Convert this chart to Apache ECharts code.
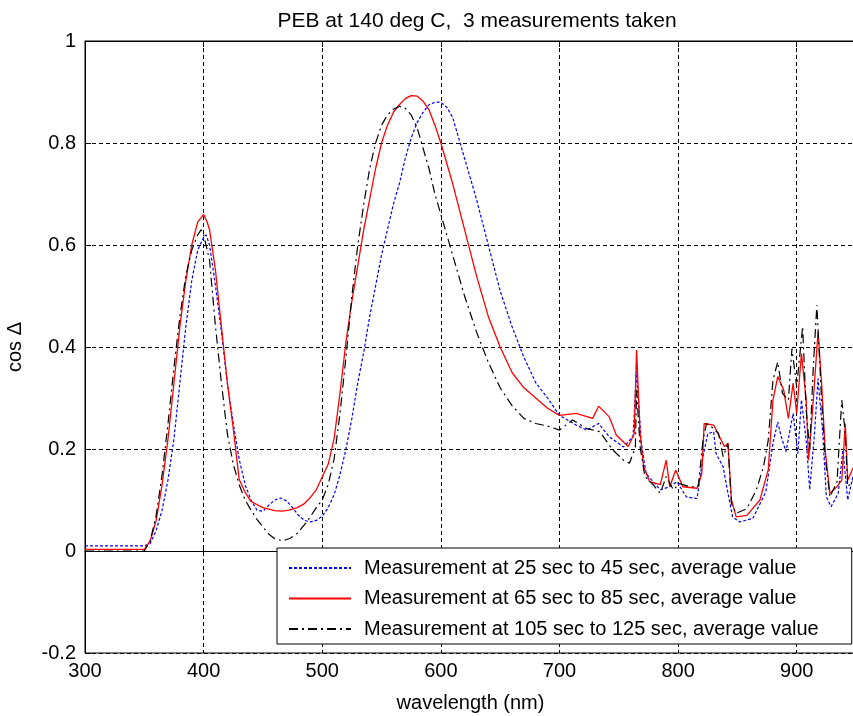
<!DOCTYPE html>
<html>
<head>
<meta charset="utf-8">
<script src="https://cdn.jsdelivr.net/npm/echarts@6/dist/echarts.min.js"></script>
<style>html,body{margin:0;padding:0;background:#fff;}#chart{width:853px;height:716px;}</style>
</head>
<body>
<div id="chart"></div>
<script>
// ---- Data ----
const titleText = 'PEB at 140 deg C,  3 measurements taken';
const seriesNames = [
  'Measurement at 25 sec to 45 sec, average value',
  'Measurement at 65 sec to 85 sec, average value',
  'Measurement at 105 sec to 125 sec, average value'
];
const xTicks = [300, 400, 500, 600, 700, 800, 900];
const yTicks = [-0.2, 0, 0.2, 0.4, 0.6, 0.8, 1];

const blueX = [300,350,355,360,365,370,375,380,385,390,395,400,402,405,410,415,420,425,430,435,440,445,450,455,460,465,470,475,480,485,490,495,500,505,510,515,520,525,530,535,540,545,550,555,560,565,570,575,580,585,590,595,600,605,610,615,620,630,640,650,660,670,680,690,700,
  714,723,733,742,754,762,765,769,773,785,793,799,807,816,821,825,830,832,838,841,846,852,863,874,880,884,887,891,897,901,904,908,911,915,918,922,925,929,935,939,943,948,950];
const blueY = [0.01,0.01,0.015,0.04,0.08,0.14,0.22,0.33,0.44,0.53,0.59,0.615,0.62,0.6,0.52,0.43,0.33,0.25,0.18,0.13,0.1,0.08,0.078,0.09,0.1,0.104,0.098,0.085,0.07,0.06,0.057,0.06,0.068,0.085,0.11,0.15,0.2,0.26,0.33,0.39,0.46,0.52,0.58,0.63,0.68,0.72,0.77,0.81,0.84,0.86,0.875,0.88,0.88,0.87,0.85,0.81,0.77,0.69,0.6,0.51,0.44,0.38,0.33,0.3,0.266,
  0.247,0.237,0.25,0.224,0.204,0.224,0.352,0.211,0.152,0.12,0.126,0.136,0.106,0.103,0.185,0.23,0.234,0.191,0.165,0.126,0.067,0.057,0.064,0.116,0.211,0.253,0.224,0.195,0.27,0.191,0.296,0.217,0.12,0.23,0.338,0.23,0.106,0.087,0.113,0.198,0.1,0.152,0.14];

const redX = [300,350,355,360,365,370,375,380,385,390,395,400,403,405,410,415,420,425,430,435,440,450,460,466,472,479,485,490,495,500,505,510,515,520,525,530,535,540,545,550,555,560,565,570,575,580,585,590,595,600,610,620,630,640,650,660,670,680,690,700,
  714,728,733,742,748,758,763,765,768,771,776,785,790,793,798,804,816,820,822,830,835,839,842,845,849,858,869,876,880,884,889,893,897,900,904,908,910,914,918,921,924,928,934,938,941,943,948,950];
const redY = [0.003,0.003,0.02,0.06,0.13,0.22,0.33,0.44,0.53,0.6,0.645,0.66,0.645,0.63,0.55,0.44,0.33,0.24,0.14,0.115,0.097,0.085,0.079,0.078,0.08,0.085,0.093,0.105,0.12,0.145,0.17,0.22,0.31,0.41,0.49,0.56,0.63,0.69,0.75,0.8,0.835,0.86,0.875,0.887,0.893,0.892,0.882,0.865,0.835,0.8,0.72,0.63,0.54,0.46,0.4,0.35,0.32,0.3,0.28,0.266,
  0.27,0.26,0.284,0.263,0.227,0.205,0.23,0.394,0.23,0.165,0.136,0.13,0.178,0.126,0.159,0.126,0.123,0.152,0.25,0.247,0.224,0.205,0.211,0.1,0.067,0.07,0.1,0.159,0.296,0.342,0.316,0.26,0.329,0.27,0.387,0.296,0.178,0.296,0.43,0.329,0.198,0.113,0.126,0.139,0.25,0.139,0.165,0.16];

const blackX = [300,350,355,360,365,370,375,380,385,390,395,398,400,405,410,415,420,425,430,435,440,445,450,455,460,467,473,479,487,495,500,505,510,515,520,525,530,535,540,545,550,555,560,565,570,575,580,585,590,595,600,610,620,630,640,650,660,670,680,690,700,
  711,723,734,745,754,759,764,765,768,772,779,785,790,796,801,810,817,821,824,828,834,838,842,845,849,858,866,872,876,880,884,888,893,896,900,905,908,911,914,917,921,924,928,934,938,941,943,948,950];
const blackY = [0,0,0.02,0.07,0.15,0.25,0.36,0.46,0.54,0.59,0.62,0.63,0.62,0.57,0.44,0.33,0.23,0.17,0.13,0.1,0.08,0.062,0.047,0.033,0.024,0.02,0.025,0.035,0.057,0.085,0.1,0.13,0.18,0.27,0.38,0.5,0.6,0.68,0.75,0.8,0.835,0.855,0.866,0.872,0.868,0.855,0.83,0.79,0.75,0.7,0.66,0.58,0.5,0.43,0.37,0.32,0.285,0.26,0.25,0.245,0.237,
  0.257,0.24,0.234,0.198,0.178,0.172,0.204,0.316,0.204,0.146,0.13,0.113,0.146,0.12,0.132,0.126,0.126,0.217,0.25,0.244,0.231,0.185,0.211,0.093,0.074,0.083,0.12,0.165,0.217,0.335,0.371,0.309,0.296,0.397,0.322,0.44,0.276,0.198,0.361,0.482,0.296,0.185,0.106,0.136,0.296,0.23,0.126,0.139,0.14];

function pairs(xs, ys) { return xs.map((x, i) => [x, ys[i]]); }

const FONT = 'Liberation Sans, Arial, sans-serif';
const chart = echarts.init(document.getElementById('chart'), null, {renderer: 'canvas'});
chart.setOption({
  backgroundColor: '#ffffff',
  animation: false,
  title: {
    text: titleText, left: 472, top: 6, textAlign: 'center',
    textStyle: {fontFamily: FONT, fontSize: 21, fontWeight: 'normal', color: '#000'}
  },
  grid: {left: 85, top: 41, width: 771, height: 612, show: true, borderColor: '#000', borderWidth: 1,
    backgroundColor: 'transparent', containLabel: false, outerBoundsMode: 'none'},
  legend: {
    orient: 'vertical', left: 277, top: 548,
    backgroundColor: '#fff', borderColor: '#000', borderWidth: 1,
    padding: [10, 33, 5, 11], itemGap: 10.5, itemWidth: 62, itemHeight: 20,
    itemStyle: {color: 'rgba(0,0,0,0)', borderWidth: 0, opacity: 0},
    textStyle: {fontFamily: FONT, fontSize: 20, lineHeight: 20, color: '#000', padding: [0, 0, 0, 8]},
    data: seriesNames
  },
  xAxis: [{
    type: 'value', min: 300, max: 950, interval: 100,
    name: 'wavelength (nm)', nameLocation: 'middle', nameGap: 40,
    nameTextStyle: {fontFamily: FONT, fontSize: 20, color: '#000'},
    axisLine: {show: true, lineStyle: {color: '#000'}},
    axisTick: {show: true, inside: true, length: 6, lineStyle: {color: '#000'}},
    axisLabel: {fontFamily: FONT, fontSize: 20, color: '#000', margin: 8, showMaxLabel: false},
    splitLine: {show: true, lineStyle: {color: '#000', type: [4, 3], width: 1}}
  }, {
    type: 'value', position: 'top', min: 300, max: 950, interval: 100,
    axisLine: {show: true, lineStyle: {color: '#000'}},
    axisTick: {show: true, inside: true, length: 6, lineStyle: {color: '#000'}},
    axisLabel: {show: false}, splitLine: {show: false}
  }],
  yAxis: {
    type: 'value', min: -0.2, max: 1, interval: 0.2,
    name: 'cos Δ', nameLocation: 'middle', nameGap: 60, nameRotate: 90,
    nameTextStyle: {fontFamily: FONT, fontSize: 20, color: '#000'},
    axisLine: {show: true, lineStyle: {color: '#000'}},
    axisTick: {show: true, inside: true, length: 6, lineStyle: {color: '#000'}},
    axisLabel: {fontFamily: FONT, fontSize: 20, color: '#000', margin: 9,
      formatter: v => String(Math.round(v * 10) / 10)},
    splitLine: {show: true, lineStyle: {color: '#000', type: [4, 3], width: 1}}
  },
  series: [
    {name: seriesNames[0], type: 'line', data: pairs(blueX, blueY), symbol: 'none', color: '#0000ff',
     lineStyle: {color: '#0000ff', width: 1.2, type: [3, 2]}},
    {name: seriesNames[1], type: 'line', data: pairs(redX, redY), symbol: 'none', color: '#ff0000',
     lineStyle: {color: '#ff0000', width: 1.3, type: 'solid'}},
    {name: seriesNames[2], type: 'line', data: pairs(blackX, blackY), symbol: 'none', color: '#000000',
     lineStyle: {color: '#000000', width: 1.2, type: [9, 4, 2, 4]}}
  ]
});
</script>
</body>
</html>
